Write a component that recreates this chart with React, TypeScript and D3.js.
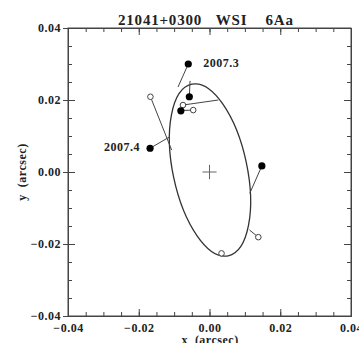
import React, { useRef, useEffect } from 'react';
import * as d3 from 'd3';

const nb = '\u00a0';
const title = `21041+0300${nb.repeat(3)}WSI${nb.repeat(4)}6Aa`;
const xTitle = `x${nb}${nb}(arcsec)`;
const yTitle = `y${nb}${nb}(arcsec)`;
const axisDomain = [-0.04, 0.04];
const majorTicks = [-0.04, -0.02, 0, 0.02, 0.04];

// filled symbols: measured positions and their predicted spot on the orbit
const filledX = [-0.006, -0.0057, -0.0081, -0.0168, 0.0148];
const filledY = [0.03, 0.0209, 0.017, 0.0066, 0.0017];
const filledFitX = [-0.0089, -0.0055, -0.0079, -0.0112, 0.0114];
const filledFitY = [0.0236, 0.0253, 0.0178, 0.0098, -0.0059];
const filledEpochs = ['2007.3', '', '', '2007.4', ''];

// open symbols
const openX = [-0.0167, -0.0075, -0.0046, 0.0138, 0.0034];
const openY = [0.0209, 0.0186, 0.0172, -0.0181, -0.0226];
const openFitX = [-0.0107, 0.0025, -0.0075, 0.0113, 0.0038];
const openFitY = [0.0061, 0.02, 0.0171, -0.0161, -0.0225];

// orbit ellipse: centre, semi-axes (arcsec), tilt in degrees
const orbitCenter = [0.00014, 0.00056];
const orbitAxes = [0.0248, 0.0103];
const orbitTilt = 78;

const App = () => {
  const ref = useRef(null);
  const width = 359;
  const height = 343;

  useEffect(() => {
    const svg = d3.select(ref.current);
    svg.selectAll('*').remove();

    const x = d3.scaleLinear().domain(axisDomain).range([68, 351]);
    const y = d3.scaleLinear().domain(axisDomain).range([316, 28]);
    const minorX = x.ticks(16);
    const minorY = y.ticks(16);
    const fmt = d3.format('.2f');
    const ink = '#444';
    const font = '"Liberation Serif", "DejaVu Serif", serif';

    const style = g => {
      g.attr('font-family', font).attr('font-size', 12).attr('font-weight', 'bold');
      g.selectAll('path.domain').attr('stroke', ink);
      g.selectAll('line').attr('stroke', ink);
      g.selectAll('text').attr('fill', '#222').attr('letter-spacing', 0.5);
    };

    // frame
    svg
      .append('rect')
      .attr('x', 68)
      .attr('y', 28)
      .attr('width', 283)
      .attr('height', 288)
      .attr('fill', 'none')
      .attr('stroke', ink);

    const sides = [
      { axis: d3.axisBottom(x), t: 'translate(0,316)', minor: minorX, labels: true },
      { axis: d3.axisTop(x), t: 'translate(0,28)', minor: minorX, labels: false },
      { axis: d3.axisLeft(y), t: 'translate(68,0)', minor: minorY, labels: true },
      { axis: d3.axisRight(y), t: 'translate(351,0)', minor: minorY, labels: false },
    ];
    sides.forEach(s => {
      svg
        .append('g')
        .attr('transform', s.t)
        .call(s.axis.tickValues(s.minor).tickSize(-4).tickSizeOuter(0).tickFormat(() => ''))
        .call(style);
      svg
        .append('g')
        .attr('transform', s.t)
        .call(
          s.axis
            .tickValues(majorTicks)
            .tickSize(-7)
            .tickSizeOuter(0)
            .tickPadding(s.labels ? 7 : 0)
            .tickFormat(d => (s.labels ? fmt(d) : ''))
        )
        .call(style);
    });

    // little outward marks on the left majors
    svg
      .append('g')
      .attr('transform', 'translate(68,0)')
      .call(d3.axisLeft(y).tickValues(majorTicks).tickSize(5).tickSizeOuter(0).tickFormat(() => ''))
      .call(style);

    // orbit
    const cx = x(orbitCenter[0]);
    const cy = y(orbitCenter[1]);
    svg
      .append('ellipse')
      .attr('cx', cx)
      .attr('cy', cy)
      .attr('rx', x(orbitAxes[0]) - x(0))
      .attr('ry', y(0) - y(orbitAxes[1]))
      .attr('transform', `rotate(${orbitTilt} ${cx} ${cy})`)
      .attr('fill', 'none')
      .attr('stroke', '#333')
      .attr('stroke-width', 1.3);

    // primary
    const cross = 0.002;
    svg
      .append('path')
      .attr('d', `M${x(-cross)},${y(0)}H${x(cross)}M${x(0)},${y(-cross)}V${y(cross)}`)
      .attr('stroke', '#666')
      .attr('stroke-width', 1);

    // residual segments
    const segs = filledX
      .map((v, i) => [v, filledY[i], filledFitX[i], filledFitY[i]])
      .concat(openX.map((v, i) => [v, openY[i], openFitX[i], openFitY[i]]));
    svg
      .append('g')
      .selectAll('line')
      .data(segs)
      .enter()
      .append('line')
      .attr('x1', d => x(d[0]))
      .attr('y1', d => y(d[1]))
      .attr('x2', d => x(d[2]))
      .attr('y2', d => y(d[3]))
      .attr('stroke', '#444')
      .attr('stroke-width', 1);

    svg
      .append('g')
      .selectAll('circle')
      .data(openX)
      .enter()
      .append('circle')
      .attr('cx', d => x(d))
      .attr('cy', (d, i) => y(openY[i]))
      .attr('r', 2.8)
      .attr('fill', '#fff')
      .attr('stroke', '#444')
      .attr('stroke-width', 1);

    svg
      .append('g')
      .selectAll('circle')
      .data(filledX)
      .enter()
      .append('circle')
      .attr('cx', d => x(d))
      .attr('cy', (d, i) => y(filledY[i]))
      .attr('r', 3.6)
      .attr('fill', '#000');

    svg
      .append('g')
      .selectAll('text')
      .data(filledEpochs.map((t, i) => ({ t, i })).filter(d => d.t))
      .enter()
      .append('text')
      .attr('x', d => x(filledX[d.i]) + (d.i === 0 ? 15 : -10))
      .attr('y', d => y(filledY[d.i]) + 3)
      .attr('text-anchor', d => (d.i === 0 ? 'start' : 'end'))
      .attr('font-family', font)
      .attr('font-size', 12)
      .attr('font-weight', 'bold')
      .attr('letter-spacing', 0.5)
      .attr('fill', '#222')
      .text(d => d.t);

    svg
      .append('text')
      .attr('x', 118)
      .attr('y', 25)
      .attr('font-family', font)
      .attr('font-size', 15)
      .attr('font-weight', 'bold')
      .attr('letter-spacing', 0.8)
      .attr('fill', '#222')
      .text(title);

    svg
      .append('text')
      .attr('x', 210)
      .attr('y', 344)
      .attr('text-anchor', 'middle')
      .attr('font-family', font)
      .attr('font-size', 12)
      .attr('font-weight', 'bold')
      .attr('letter-spacing', 0.5)
      .attr('fill', '#222')
      .text(xTitle);

    svg
      .append('text')
      .attr('transform', 'translate(26,172) rotate(-90)')
      .attr('text-anchor', 'middle')
      .attr('font-family', font)
      .attr('font-size', 12)
      .attr('font-weight', 'bold')
      .attr('letter-spacing', 0.5)
      .attr('fill', '#222')
      .text(yTitle);
  }, []);

  return (
    <>
      <style>{`body { margin: 0; background: #fff; }`}</style>
      <svg ref={ref} width={width} height={height} style={{ display: 'block' }} />
    </>
  );
};

export default App;
